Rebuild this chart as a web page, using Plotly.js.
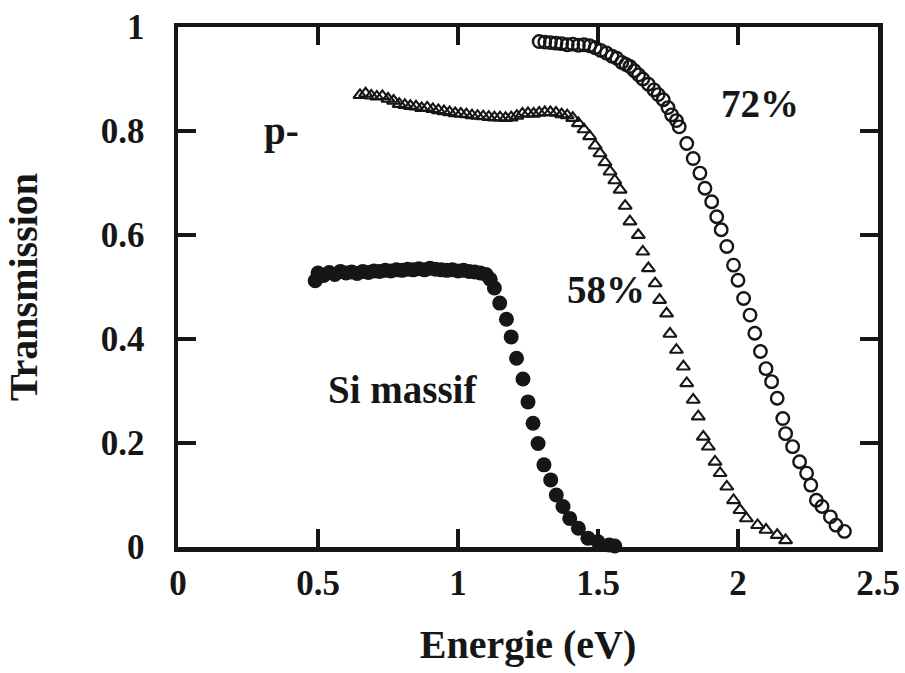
<!DOCTYPE html>
<html>
<head>
<meta charset="utf-8">
<script src="https://cdn.plot.ly/plotly-3.0.1.min.js"></script>
<style>html,body{margin:0;padding:0;background:#fff;}#chart{width:905px;height:673px;}</style>
</head>
<body>
<div id="chart"></div>
<script>
// Si massif (filled circles)
const siX = [0.49,0.50,0.52,0.54,0.56,0.58,0.60,0.62,0.64,0.66,0.68,0.70,0.72,0.74,0.76,0.78,0.80,0.82,0.84,0.86,0.88,0.90,0.92,0.94,0.96,0.98,1.00,1.02,1.04,1.06,1.08,1.10,1.115,1.13,1.149,1.173,1.19,1.209,1.232,1.25,1.268,1.286,1.307,1.331,1.351,1.375,1.399,1.43,1.464,1.50,1.54,1.56];
const siY = [0.512,0.527,0.522,0.528,0.524,0.530,0.527,0.529,0.526,0.530,0.528,0.531,0.530,0.532,0.531,0.533,0.532,0.534,0.533,0.535,0.533,0.536,0.534,0.533,0.532,0.533,0.531,0.532,0.530,0.529,0.527,0.524,0.515,0.498,0.469,0.438,0.404,0.363,0.323,0.279,0.238,0.199,0.158,0.129,0.100,0.078,0.055,0.036,0.017,0.010,0.004,0.002];
// 58% porous (open triangles)
const p58X = [0.65,0.67,0.69,0.71,0.73,0.75,0.77,0.79,0.81,0.83,0.85,0.87,0.89,0.91,0.93,0.95,0.97,0.99,1.01,1.03,1.05,1.07,1.09,1.11,1.13,1.15,1.17,1.19,1.21,1.23,1.25,1.27,1.29,1.31,1.33,1.35,1.37,1.39,1.41,1.43,1.45,1.47,1.49,1.507,1.525,1.543,1.56,1.579,1.597,1.614,1.644,1.66,1.68,1.704,1.72,1.745,1.757,1.78,1.805,1.817,1.84,1.858,1.876,1.894,1.918,1.936,1.96,1.984,2.007,2.03,2.07,2.10,2.14,2.17];
const p58Y = [0.869,0.872,0.868,0.866,0.867,0.862,0.858,0.852,0.850,0.848,0.847,0.844,0.845,0.842,0.840,0.838,0.836,0.834,0.833,0.832,0.830,0.829,0.828,0.827,0.826,0.826,0.825,0.826,0.829,0.833,0.834,0.833,0.835,0.836,0.836,0.835,0.832,0.830,0.825,0.815,0.803,0.790,0.772,0.757,0.740,0.722,0.705,0.687,0.656,0.626,0.600,0.568,0.536,0.507,0.475,0.449,0.410,0.379,0.347,0.315,0.283,0.251,0.212,0.193,0.164,0.142,0.116,0.090,0.071,0.055,0.042,0.033,0.023,0.013];
// 72% porous (open circles)
const p72X = [1.29,1.31,1.33,1.35,1.37,1.39,1.41,1.43,1.45,1.47,1.49,1.51,1.53,1.55,1.567,1.585,1.60,1.614,1.63,1.645,1.66,1.68,1.70,1.715,1.733,1.75,1.763,1.78,1.79,1.817,1.84,1.864,1.882,1.906,1.924,1.94,1.96,1.984,2.00,2.02,2.043,2.06,2.08,2.10,2.12,2.14,2.16,2.17,2.195,2.22,2.245,2.26,2.28,2.30,2.33,2.35,2.38];
const p72Y = [0.972,0.971,0.970,0.969,0.968,0.966,0.967,0.965,0.966,0.964,0.960,0.955,0.950,0.944,0.940,0.932,0.928,0.924,0.916,0.908,0.900,0.890,0.879,0.870,0.860,0.845,0.831,0.820,0.808,0.776,0.747,0.719,0.690,0.664,0.635,0.610,0.578,0.542,0.513,0.478,0.446,0.411,0.376,0.343,0.318,0.286,0.247,0.218,0.193,0.164,0.142,0.119,0.090,0.078,0.058,0.042,0.030];

const labels = ["p-", "72%", "58%", "Si massif"];
const labelX = [0.371, 2.079, 1.529, 0.80];
const labelY = [0.80, 0.852, 0.496, 0.302];

const xTicks = [0, 0.5, 1, 1.5, 2, 2.5];
const xTickText = ["0", "0.5", "1", "1.5", "2", "2.5"];
const yTicks = [0, 0.2, 0.4, 0.6, 0.8, 1];
const yTickText = ["0", "0.2", "0.4", "0.6", "0.8", "1"];

const INK = '#161616';
const FONT = 'Liberation Serif, Times New Roman, serif';

const traces = [
  {x: siX, y: siY, type: 'scatter', mode: 'markers', name: 'Si massif', cliponaxis: false,
   marker: {symbol: 'circle', size: 15, color: INK}},
  {x: p58X, y: p58Y, type: 'scatter', mode: 'markers', name: '58%', cliponaxis: false,
   marker: {symbol: 'triangle-up-open', size: 11.5, color: INK, line: {width: 2.1, color: INK}}},
  {x: p72X, y: p72Y, type: 'scatter', mode: 'markers', name: '72%', cliponaxis: false,
   marker: {symbol: 'circle-open', size: 12.5, color: INK, line: {width: 2.4, color: INK}}}
];

const axisCommon = {
  showline: true, linewidth: 4.5, linecolor: INK, mirror: 'ticks',
  ticks: 'inside', ticklen: 18, tickwidth: 3.5, tickcolor: INK,
  showgrid: false, zeroline: false, automargin: false,
  tickfont: {family: FONT, size: 35, color: INK, weight: 'bold'}
};

const layout = {
  width: 905, height: 673,
  margin: {l: 178, r: 27, t: 27, b: 126},
  paper_bgcolor: '#fff', plot_bgcolor: '#fff',
  showlegend: false,
  xaxis: Object.assign({}, axisCommon, {
    range: [0, 2.5], tickvals: xTicks, ticktext: xTickText, ticklabelstandoff: 1,
    title: {text: 'Energie (eV)', standoff: 30, font: {family: FONT, size: 40, color: INK, weight: 'bold'}}
  }),
  yaxis: Object.assign({}, axisCommon, {
    range: [0, 1], tickvals: yTicks, ticktext: yTickText, ticklabelstandoff: 22,
    title: {text: 'Transmission', standoff: 52, font: {family: FONT, size: 40, color: INK, weight: 'bold'}}
  }),
  annotations: labels.map((t, i) => ({
    x: labelX[i], y: labelY[i], xref: 'x', yref: 'y', text: t, showarrow: false,
    xanchor: 'center', yanchor: 'middle',
    font: {family: FONT, size: 39, color: INK, weight: 'bold'}
  }))
};

Plotly.newPlot('chart', traces, layout, {displayModeBar: false, staticPlot: true});
</script>
</body>
</html>
